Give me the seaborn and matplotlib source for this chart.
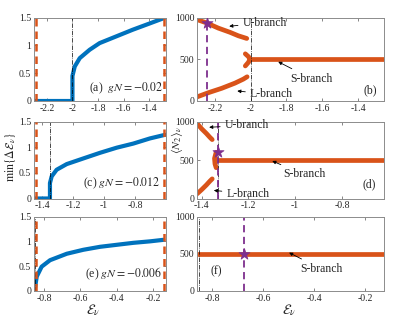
import matplotlib
matplotlib.use("Agg")
import matplotlib.pyplot as plt
import seaborn as sns
from matplotlib.ticker import FormatStrFormatter

# ---- left column: min gap vs energy (blue) ----
a_x = [-2.3, -2.0, -2.0, -1.982, -1.943, -1.866, -1.788, -1.659, -1.530, -1.401, -1.285]
a_y = [0, 0, 0.45, 0.62, 0.77, 0.92, 1.04, 1.16, 1.28, 1.39, 1.49]
c_x = [-1.452, -1.349, -1.349, -1.338, -1.306, -1.241, -1.134, -1.026, -0.918, -0.811, -0.704, -0.607]
c_y = [0, 0, 0.30, 0.43, 0.56, 0.67, 0.78, 0.89, 0.99, 1.07, 1.17, 1.24]
e_x = [-0.85, -0.84, -0.813, -0.767, -0.675, -0.584, -0.492, -0.401, -0.309, -0.217, -0.145]
e_y = [0.05, 0.29, 0.49, 0.62, 0.75, 0.83, 0.89, 0.93, 0.97, 1.0, 1.03]

# band edges (orange dashed) and critical points (dash-dot)
edges = [(-2.287, -1.283), (-1.442, -0.61), (-0.844, -0.14)]
crit_l = [-2.0, -1.349, -0.852]
crit_r = [-2.0, -1.33, -0.852]
gN = ["-0.02", "-0.012", "-0.006"]

# ---- right column: <N2> branches (orange) ----
b_U_x = [-2.3, -2.246, -2.181, -2.116, -2.069, -2.022]
b_U_y = [975, 935, 873, 823, 781, 749]
b_L_x = [-2.3, -2.237, -2.162, -2.088, -2.041, -2.02]
b_L_y = [49, 99, 152, 214, 262, 290]
b_arc_x = [-2.03, -2.012, -2.005, -2.012, -2.03]
b_arc_y = [565, 530, 500, 465, 420]
b_S_x = [-2.005, -1.255]
b_S_y = [500, 500]

d_U_x = [-1.42, -1.40, -1.38, -1.365, -1.355]
d_U_y = [975, 905, 845, 795, 765]
d_L_x = [-1.42, -1.40, -1.38, -1.365, -1.355]
d_L_y = [60, 115, 175, 225, 255]
d_arc_x = [-1.338, -1.345, -1.343, -1.338]
d_arc_y = [600, 520, 450, 400]
d_S_x = [-1.338, -0.62]
d_S_y = [500, 500]

f_S_x = [-0.86, -0.125]
f_S_y = [500, 500]

star_x = [-2.244, -1.33, -0.675]
star_y = [940, 610, 500]

BLUE = "#0072BD"
ORANGE = "#D95319"
PURPLE = "#7E2F8E"

sns.set_style("ticks")
plt.rcParams["font.family"] = ["Liberation Serif", "DejaVu Serif"]
plt.rcParams["mathtext.fontset"] = "stix"
plt.rcParams["axes.unicode_minus"] = False

fig = plt.figure(figsize=(4.07, 3.2), dpi=100)
W, H = 407, 320


def px_axes(l, r, t, b):
    return fig.add_axes([l / W, (H - b) / H, (r - l) / W, (b - t) / H])


rows = [(17.5, 101), (121.5, 198.5), (216.5, 291)]
left_ax = [px_axes(34, 166, t, b) for t, b in rows]
right_ax = [px_axes(197, 384, t, b) for t, b in rows]

xlims_l = [(-2.3, -1.27), (-1.452, -0.6), (-0.855, -0.13)]
xlims_r = [(-2.3, -1.255), (-1.42, -0.62), (-0.86, -0.125)]
xticks = [[-2.2, -2, -1.8, -1.6, -1.4], [-1.4, -1.2, -1, -0.8], [-0.8, -0.6, -0.4, -0.2]]


def style(ax):
    for s in ax.spines.values():
        s.set_color("0.55")
        s.set_linewidth(0.7)
    ax.tick_params(direction="in", length=2.5, width=0.6, color="0.45",
                   labelsize=7, top=True, right=True, pad=2)
    ax.xaxis.set_major_formatter(FormatStrFormatter("%g"))
    ax.yaxis.set_major_formatter(FormatStrFormatter("%g"))


blue_data = [(a_x, a_y), (c_x, c_y), (e_x, e_y)]
text_pos = [(0.977, 0.15), (0.955, 0.2), (0.97, 0.236)]
labels = ["(a)  ", "(c) ", "(e) "]
for i, ax in enumerate(left_ax):
    x, y = blue_data[i]
    sns.lineplot(x=x, y=y, ax=ax, color=BLUE, lw=3, sort=False, estimator=None)
    for e in edges[i]:
        ax.axvline(e, color=ORANGE, ls=(0, (3, 2)), lw=1.8, zorder=4)
    ax.axvline(crit_l[i], color="k", ls="-.", lw=0.5)
    ax.set_xlim(*xlims_l[i])
    ax.set_ylim(0, 1.5)
    ax.set_xticks(xticks[i])
    ax.set_yticks([0, 0.5, 1, 1.5])
    ax.text(*text_pos[i], labels[i] + "$gN=" + gN[i] + "$",
            transform=ax.transAxes, ha="right", va="center", fontsize=8.5)
    style(ax)

right_data = [
    [(b_U_x, b_U_y), (b_L_x, b_L_y), (b_arc_x, b_arc_y), (b_S_x, b_S_y)],
    [(d_U_x, d_U_y), (d_L_x, d_L_y), (d_arc_x, d_arc_y), (d_S_x, d_S_y)],
    [(f_S_x, f_S_y)],
]
for i, ax in enumerate(right_ax):
    for x, y in right_data[i]:
        sns.lineplot(x=x, y=y, ax=ax, color=ORANGE, lw=3.4, sort=False,
                     estimator=None, solid_capstyle="round")
    ax.axvline(crit_r[i], color="k", ls="-.", lw=0.5)
    ax.axvline(star_x[i], color=PURPLE, ls=(0, (4, 2.5)), lw=1.3)
    sns.scatterplot(x=[star_x[i]], y=[star_y[i]], ax=ax, marker="*", s=70,
                    color=PURPLE, edgecolor=PURPLE, linewidth=0.5, zorder=5)
    ax.set_xlim(*xlims_r[i])
    ax.set_ylim(0, 1000)
    ax.set_xticks(xticks[i])
    ax.set_yticks([0, 500, 1000])
    style(ax)

arrow = dict(arrowstyle="-|>", color="k", lw=0.6, mutation_scale=5,
             shrinkA=1, shrinkB=0)
fs = 8.5
rb, rd, rf = right_ax
rb.annotate("U-branch", xy=(-2.12, 895), xytext=(-2.045, 938), ha="left",
            va="center", fontsize=fs, arrowprops=arrow, annotation_clip=False)
rb.annotate("S-branch", xy=(-1.846, 470), xytext=(-1.78, 268), ha="left",
            va="center", fontsize=fs, arrowprops=arrow)
rb.annotate("L-branch", xy=(-2.075, 120), xytext=(-2.004, 78), ha="left",
            va="center", fontsize=fs, arrowprops=arrow)
rb.text(-1.334, 132, "(b)", ha="center", va="center", fontsize=fs)

rd.annotate("U-branch", xy=(-1.368, 925), xytext=(-1.301, 951), ha="left",
            va="center", fontsize=fs, arrowprops=arrow)
rd.annotate("S-branch", xy=(-1.098, 487), xytext=(-1.053, 312), ha="left",
            va="center", fontsize=fs, arrowprops=arrow)
rd.annotate("L-branch", xy=(-1.348, 105), xytext=(-1.294, 61), ha="left",
            va="center", fontsize=fs, arrowprops=arrow)
rd.text(-0.684, 180, "(d)", ha="center", va="center", fontsize=fs)

rf.annotate("S-branch", xy=(-0.498, 515), xytext=(-0.456, 297), ha="left",
            va="center", fontsize=fs, arrowprops=arrow)
rf.text(-0.785, 261, "(f)", ha="center", va="center", fontsize=fs)

fig.text(11 / W, (H - 157) / H, r"$\min\{\Delta\mathcal{E}_\nu\}$", rotation=90,
         ha="center", va="center", fontsize=8.5)
fig.text(177 / W, (H - 140) / H, r"$\langle N_2\rangle_\nu$", rotation=90,
         ha="center", va="center", fontsize=8.5)
fig.text(93 / W, (H - 310) / H, r"$\mathcal{E}_\nu$", ha="center", va="center",
         fontsize=10)
fig.text(289 / W, (H - 310) / H, r"$\mathcal{E}_\nu$", ha="center", va="center",
         fontsize=10)

fig.savefig("out.png", dpi=100)
